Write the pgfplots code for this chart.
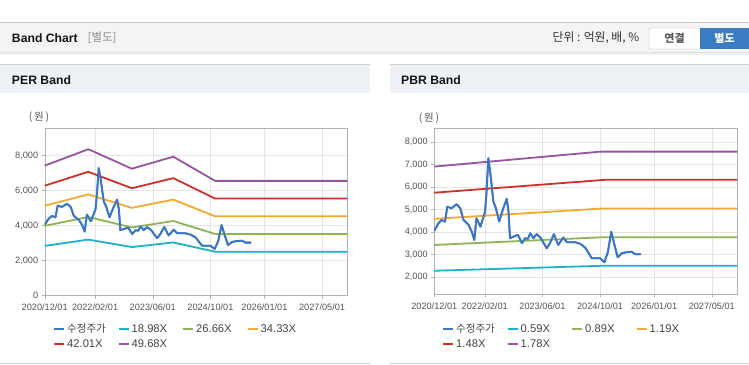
\documentclass[border=0pt]{standalone}
\usepackage{pgfplots}
\pgfplotsset{compat=1.18}
\usepackage{pgfplotstable}
\usepackage{fontspec}
\setmainfont{Liberation Sans}
\newfontfamily\kr{Noto Sans CJK KR}

\definecolor{cprice}{RGB}{58,118,196}
\definecolor{ccyan}{RGB}{32,178,200}
\definecolor{cgreen}{RGB}{142,180,86}
\definecolor{corange}{RGB}{245,168,50}
\definecolor{cred}{RGB}{208,48,40}
\definecolor{cpurple}{RGB}{152,84,160}
\definecolor{hdr}{RGB}{244,244,244}
\definecolor{phdr}{RGB}{238,241,246}
\definecolor{btn}{RGB}{60,124,196}
\definecolor{axisgray}{RGB}{178,178,178}
\definecolor{gridgray}{RGB}{228,228,228}
\definecolor{labgray}{RGB}{85,85,85}
\definecolor{leggray}{RGB}{68,68,68}

\pgfplotstableread{
m v
0 4050
1.1 4390
2.0 4540
3.0 4470
3.6 5130
4.8 5060
6.2 5240
7.2 5060
8.1 4540
9.5 4320
10.4 4020
11.1 3650
11.7 4620
12.8 4240
14.1 4910
14.5 5800
15.0 7280
15.5 6690
16.4 5360
17.1 5060
18.0 4470
19.0 4990
20.1 5480
20.6 4910
21.0 3730
22.0 3800
23.2 3880
24.3 3510
25.2 3730
26.0 3700
26.6 3950
27.5 3730
28.4 3910
29.5 3750
31.2 3280
32.1 3510
33.2 3910
34.4 3430
35.8 3760
36.8 3550
39.1 3550
40.5 3480
41.9 3310
43.7 2840
46.0 2840
47.2 2660
48.2 3130
49.1 4020
50.0 3430
50.9 2880
52.0 3060
53.4 3110
54.8 3130
55.7 3020
57.3 3020
}\price

\pgfplotstableread{
m c1 c2 c3 c4 c5
0 2834 3980 5125 6272 7417
12.1 3192 4484 5774 7066 8356
24.2 2767 3887 5005 6125 7243
35.7 3029 4255 5479 6705 7929
47.3 2502 3514 4525 5537 6548
84 2502 3514 4525 5537 6548
}\per

\pgfplotstableread{
m c1 c2 c3 c4 c5
0 2285 3430 4590 5750 6910
46.2 2505 3770 5045 6308 7575
48 2505 3770 5045 6330 7575
84 2505 3770 5045 6330 7575
}\pbr

\pgfplotsset{
  bandaxis/.style={
    scale only axis,
    xmin=0, xmax=84,
    xtick={0,14,30,46,61,77},
    xticklabels={2020/12/01,2022/02/01,2023/06/01,2024/10/01,2026/01/01,2027/05/01},
    axis line style={draw=axisgray},
    tick style={draw=axisgray, thin},
    tick align=outside,
    major tick length=3pt,
    xtick pos=bottom, ytick pos=left,
    grid=major,
    major grid style={draw=gridgray, thin},
    tick label style={font=\fontsize{9.2}{10}\selectfont, text=labgray},
    xticklabel style={yshift=-1.5pt},
    /pgf/number format/assume math mode=true,
    /pgf/number format/1000 sep={,},
    scaled y ticks=false,
    every axis plot/.append style={line width=1.8pt, line join=round, mark=none},
    legend columns=4,
    legend cell align=left,
    legend image code/.code={\draw[#1,line width=2pt] (0pt,0pt) -- (10pt,0pt);},
    legend style={anchor=north west, draw=none, fill=none, inner sep=0pt,
      row sep=4pt, font=\fontsize{11.2}{12}\selectfont, text=leggray,
      nodes={inner sep=0pt},
      /tikz/every odd column/.append style={column sep=2pt}},
  }
}
\newcommand{\legtxt}[1]{\makebox[50.5pt][l]{#1\rule[-3pt]{0pt}{12pt}}}

\begin{document}
\begin{tikzpicture}[x=1pt,y=1pt]
\path[use as bounding box, fill=white] (0,0) rectangle (749,364);
% top header bar
\fill[hdr] (0,311.7) rectangle (749,341.5);
\fill[black!12] (0,310.6) rectangle (749,311.7);
\fill[black!6] (0,309.4) rectangle (749,310.6);
\draw[black!22, line width=0.8pt] (0,341.5) -- (749,341.5);
\node[anchor=west, inner sep=0pt, font=\bfseries\fontsize{12.2}{14}\selectfont, text=black!92] at (11.8,326) {Band Chart};
\node[anchor=west, inner sep=0pt, font=\kr\fontsize{11.5}{13}\selectfont, text=black!45] at (87.5,326) {[별도]};
\node[anchor=west, inner sep=0pt, font=\kr\fontsize{11.8}{13}\selectfont, text=black!80] at (552.5,326) {단위 : 억원, 배, \%};
\draw[fill=white, draw=black!25, rounded corners=2pt] (700,315) -- (649,315) -- (649,336) -- (700,336);
\fill[btn] (700,315) rectangle (749,336);
\node[inner sep=0pt, font=\kr\bfseries\fontsize{11}{13}\selectfont, text=black!65] at (674.5,325.5) {연결};
\node[inner sep=0pt, font=\kr\bfseries\fontsize{11}{13}\selectfont, text=white] at (724.5,325.5) {별도};
% panel headers
\fill[phdr] (0,271.3) rectangle (370,300);
\fill[phdr] (390,271.3) rectangle (749,300);
\draw[black!18, line width=0.8pt] (0,300) -- (370,300);
\draw[black!18, line width=0.8pt] (390,300) -- (749,300);
\node[anchor=west, inner sep=0pt, font=\bfseries\fontsize{12.2}{14}\selectfont, text=black!92] at (11.8,283.7) {PER Band};
\node[anchor=west, inner sep=0pt, font=\bfseries\fontsize{12.2}{14}\selectfont, text=black!92] at (401,283.7) {PBR Band};
\draw[black!18, line width=0.8pt] (0,0.7) -- (370,0.7);
\draw[black!18, line width=0.8pt] (390,0.7) -- (749,0.7);
% unit labels
\node[inner sep=0pt, font=\kr\fontsize{10.5}{12}\selectfont, text=labgray] at (39,247) {(\,원\,)};
\node[inner sep=0pt, font=\kr\fontsize{10.5}{12}\selectfont, text=labgray] at (429,246) {(\,원\,)};

\begin{axis}[bandaxis, at={(44.7pt,68.5pt)}, anchor=south west,
  width=302.6pt, height=167.2pt, ymin=0, ymax=9550,
  ytick={0,2000,4000,6000,8000},
  legend style={at={(axis description cs:0.0274,-0.168)}}]
\addplot[cprice] table[x=m,y=v] {\price};
\addlegendentry{\legtxt{\kr\fontsize{10.5}{12}\selectfont 수정주가}}
\addplot[ccyan] table[x=m,y=c1] {\per};
\addlegendentry{\legtxt{18.98X}}
\addplot[cgreen] table[x=m,y=c2] {\per};
\addlegendentry{\legtxt{26.66X}}
\addplot[corange] table[x=m,y=c3] {\per};
\addlegendentry{\legtxt{34.33X}}
\addplot[cred] table[x=m,y=c4] {\per};
\addlegendentry{\legtxt{42.01X}}
\addplot[cpurple] table[x=m,y=c5] {\per};
\addlegendentry{\legtxt{49.68X}}
\addplot[cprice, forget plot] table[x=m,y=v] {\price};
\end{axis}

\begin{axis}[bandaxis, at={(434.3pt,69.7pt)}, anchor=south west,
  width=302.7pt, height=166pt, ymin=1240, ymax=8610,
  ytick={2000,3000,4000,5000,6000,7000,8000},
  legend style={at={(axis description cs:0.0255,-0.177)}}]
\addplot[cprice] table[x=m,y=v] {\price};
\addlegendentry{\legtxt{\kr\fontsize{10.5}{12}\selectfont 수정주가}}
\addplot[ccyan] table[x=m,y=c1] {\pbr};
\addlegendentry{\legtxt{0.59X}}
\addplot[cgreen] table[x=m,y=c2] {\pbr};
\addlegendentry{\legtxt{0.89X}}
\addplot[corange] table[x=m,y=c3] {\pbr};
\addlegendentry{\legtxt{1.19X}}
\addplot[cred] table[x=m,y=c4] {\pbr};
\addlegendentry{\legtxt{1.48X}}
\addplot[cpurple] table[x=m,y=c5] {\pbr};
\addlegendentry{\legtxt{1.78X}}
\addplot[cprice, forget plot] table[x=m,y=v] {\price};
\end{axis}
\end{tikzpicture}
\end{document}
